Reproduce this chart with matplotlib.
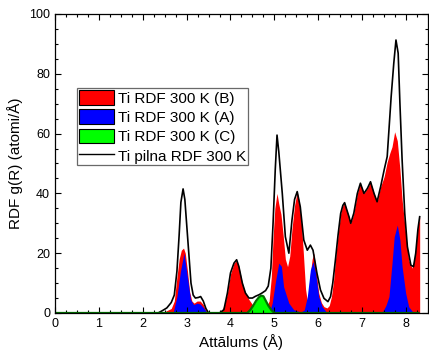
import matplotlib
matplotlib.use("Agg")
import matplotlib.pyplot as plt
from matplotlib.patches import Patch
from matplotlib.lines import Line2D
from matplotlib.ticker import MultipleLocator

plt.rcParams['font.family'] = ['Liberation Sans', 'DejaVu Sans']

# Ti RDF 300 K (B) - red
b_x = [0.0, 2.45, 2.55, 2.65, 2.72, 2.78, 2.83, 2.88, 2.93, 2.97, 3.02, 3.07, 3.12, 3.17, 3.24, 3.31, 3.38, 3.44, 3.5,
       3.7, 3.8, 3.87, 3.93, 4.0, 4.08, 4.14, 4.19, 4.27, 4.34, 4.42, 4.5, 4.6, 4.7, 4.8, 4.88,
       4.93, 4.97, 5.01, 5.06, 5.10, 5.15, 5.2, 5.25, 5.3, 5.35, 5.4, 5.46, 5.52, 5.57, 5.62, 5.66, 5.71,
       5.76, 5.81, 5.86, 5.9, 5.95, 6.01, 6.07, 6.13, 6.2, 6.25, 6.3,
       6.35, 6.39, 6.45, 6.51, 6.56, 6.6, 6.65, 6.7, 6.74, 6.81, 6.89, 6.96, 7.04, 7.12, 7.19, 7.27, 7.34, 7.42,
       7.5, 7.57, 7.63, 7.68, 7.74, 7.8, 7.86, 7.91, 7.99, 8.06, 8.14, 8.21, 8.26, 8.31]
b_y = [0.0, 0.0, 0.8, 1.5, 4.0, 12.0, 18.0, 21.0, 21.7, 20.0, 14.0, 7.0, 4.0, 3.3, 4.0, 4.0, 2.8, 0.8, 0.0,
       0.0, 0.8, 3.0, 6.7, 13.0, 16.7, 17.5, 15.6, 10.0, 6.7, 4.5, 2.8, 1.5, 1.0, 1.5, 4.0,
       12.0, 25.0, 35.0, 40.0, 36.5, 33.0, 26.0, 18.0, 15.5, 19.0, 28.0, 36.0, 40.6, 37.0, 29.0, 20.0, 8.0,
       3.0, 12.0, 18.0, 20.0, 14.0, 6.7, 3.5, 2.1, 1.7, 2.5, 5.5,
       11.0, 17.7, 26.0, 33.3, 36.0, 36.9, 34.5, 32.2, 30.0, 33.4, 40.0, 43.4, 40.0, 41.7, 43.9, 40.0, 37.2, 42.2,
       45.6, 50.5, 53.5, 55.6, 60.6, 57.6, 48.0, 37.8, 26.7, 17.7, 15.0, 20.0, 28.0, 32.2]

# Ti RDF 300 K (A) - blue
a_x = [0.0, 2.6, 2.7, 2.78, 2.86, 2.94, 3.02, 3.09, 3.16, 3.24, 3.31, 3.39, 3.47,
       4.88, 4.95, 5.03, 5.10, 5.16, 5.21, 5.27, 5.33, 5.44, 5.6,
       5.68, 5.75, 5.82, 5.88, 5.94, 6.01, 6.09, 6.2,
       7.45, 7.54, 7.61, 7.68, 7.73, 7.80, 7.86, 7.91, 7.99, 8.06, 8.17, 8.31]
a_y = [0.0, 0.0, 0.5, 5.5, 14.0, 20.0, 12.0, 4.5, 2.8, 3.3, 3.0, 1.7, 0.0,
       0.0, 3.3, 11.0, 16.7, 15.6, 8.8, 6.0, 3.3, 1.1, 0.3,
       1.0, 5.5, 14.4, 17.2, 13.3, 5.5, 2.1, 0.0,
       0.0, 2.5, 5.5, 16.7, 25.5, 29.4, 24.4, 15.5, 6.7, 2.1, 0.0, 0.0]

# Ti RDF 300 K (C) - green
c_x = [0.0, 4.38, 4.45, 4.52, 4.58, 4.65, 4.7, 4.75, 4.8, 4.86, 4.93, 5.0, 8.31]
c_y = [0.0, 0.0, 1.0, 2.5, 4.0, 5.3, 5.8, 5.6, 4.2, 2.5, 1.0, 0.0, 0.0]

# Ti pilna RDF 300 K - black line
t_x = [0.0, 2.35, 2.45, 2.55, 2.65, 2.72, 2.78, 2.83, 2.87, 2.92, 2.96, 3.0, 3.05, 3.1, 3.15, 3.2, 3.27, 3.32,
       3.38, 3.44, 3.5, 3.6, 3.75, 3.85, 3.93, 4.0, 4.08, 4.14, 4.19, 4.27, 4.34, 4.42, 4.5, 4.57,
       4.65, 4.72, 4.8, 4.86, 4.92, 4.97, 5.02, 5.06, 5.10, 5.14, 5.18, 5.25, 5.33, 5.40, 5.46, 5.52,
       5.59, 5.67, 5.75, 5.82, 5.88, 5.97, 6.05, 6.13, 6.22, 6.28, 6.33, 6.39, 6.45, 6.51, 6.56, 6.6,
       6.65, 6.7, 6.74, 6.81, 6.89, 6.96, 7.04, 7.12, 7.19, 7.27, 7.34, 7.42, 7.5, 7.57, 7.61, 7.66,
       7.72, 7.77, 7.82, 7.86, 7.91, 7.97, 8.03, 8.11, 8.17, 8.22, 8.27, 8.31]
t_y = [0.0, 0.0, 0.8, 1.7, 3.5, 6.0, 14.0, 26.0, 37.0, 41.5, 38.0, 30.0, 20.0, 10.0, 6.0, 5.0, 5.2, 5.5,
       4.0, 1.5, 0.0, 0.0, 0.0, 1.1, 6.7, 13.4, 16.7, 17.8, 15.6, 10.0, 6.7, 5.0, 5.0, 5.6,
       6.1, 6.7, 7.5, 9.0, 15.0, 30.0, 48.0, 59.5, 54.0, 47.0, 40.0, 25.5, 20.0, 31.0, 38.0, 40.6,
       35.5, 24.4, 21.0, 22.7, 21.0, 13.3, 7.7, 4.9, 3.8, 5.5, 10.0, 17.7, 26.0, 33.3, 36.0, 36.9,
       34.5, 32.2, 30.0, 33.4, 40.0, 43.4, 40.0, 41.7, 43.9, 40.0, 37.2, 42.2, 47.8, 52.3, 61.2, 72.3,
       83.5, 91.3, 86.9, 70.1, 51.2, 33.3, 22.2, 16.0, 15.5, 20.0, 28.0, 32.2]

x_ticks = [0, 1, 2, 3, 4, 5, 6, 7, 8]
y_ticks = [0, 20, 40, 60, 80, 100]
labels = ['Ti RDF 300 K (B)', 'Ti RDF 300 K (A)', 'Ti RDF 300 K (C)', 'Ti pilna RDF 300 K']

fig = plt.figure(figsize=(4.29, 3.56), dpi=100)
ax = fig.add_axes([0.128, 0.1208, 0.8697, 0.8399])

ax.fill_between(b_x, b_y, 0, color='#ff0000', lw=0)
ax.fill_between(a_x, a_y, 0, color='#0000ff', lw=0)
ax.fill_between(c_x, c_y, 0, color='#00ff00', lw=0)
ax.plot(t_x, t_y, color='black', lw=1.2)
ax.plot(c_x, c_y, color='#007000', lw=1.6, solid_capstyle='butt')

ax.set_xlim(0, 8.5)
ax.set_ylim(0, 100)
ax.set_xticks(x_ticks)
ax.set_yticks(y_ticks)
ax.xaxis.set_minor_locator(MultipleLocator(0.25))
ax.yaxis.set_minor_locator(MultipleLocator(5))
ax.tick_params(which='both', direction='in', top=True, right=True, labelsize=9, width=0.8, colors='black')
ax.tick_params(which='major', length=4)
ax.tick_params(which='minor', length=2)
for s in ax.spines.values():
    s.set_linewidth(0.9)

ax.set_xlabel('Attālums (Å)', fontsize=11, labelpad=3)
ax.set_ylabel('RDF g(R) (atomi/Å)', fontsize=11, labelpad=4)

handles = [Patch(facecolor='#ff0000', edgecolor='black', lw=0.8),
           Patch(facecolor='#0000ff', edgecolor='black', lw=0.8),
           Patch(facecolor='#00ff00', edgecolor='black', lw=0.8),
           Line2D([], [], color='black', lw=1.0)]
leg = ax.legend(handles, labels, loc='upper left', bbox_to_anchor=(0.059, 0.752), fontsize=11,
                frameon=True, fancybox=False, borderpad=0.12, labelspacing=0.25, handlelength=2.3,
                handleheight=1.1, handletextpad=0.3, borderaxespad=0)
leg.get_frame().set_edgecolor('#444444')
leg.get_frame().set_linewidth(0.9)

fig.savefig('out.png', dpi=100)
